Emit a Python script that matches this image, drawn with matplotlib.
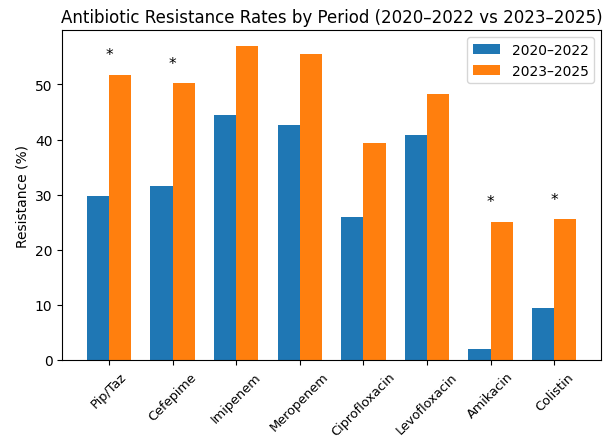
import numpy as np
import matplotlib
matplotlib.use("Agg")
import matplotlib.pyplot as plt

# antibiotics and resistance rates (%)
drugs = ["Pip/Taz", "Cefepime", "Imipenem", "Meropenem",
         "Ciprofloxacin", "Levofloxacin", "Amikacin", "Colistin"]
period1 = [29.8, 31.5, 44.4, 42.7, 25.9, 40.8, 2.0, 9.4]
period2 = [51.8, 50.2, 57.0, 55.6, 39.3, 48.3, 25.1, 25.6]
significant = [True, True, False, False, False, False, True, True]

barWidth = 0.35
x = np.arange(len(drugs))

fig, ax = plt.subplots(figsize=(6.04, 4.39), dpi=100)
ax.bar(x - barWidth / 2, period1, width=barWidth, label="2020–2022")
ax.bar(x + barWidth / 2, period2, width=barWidth, label="2023–2025")

# mark significant changes
for i, sig in enumerate(significant):
    if sig:
        top = max(period1[i], period2[i])
        ax.text(x[i], top + 2.2, "*", ha="center", va="bottom", fontsize=11)

ax.set_xticks(x)
ax.set_xticklabels(drugs, rotation=45, fontsize=9.3)
ax.set_ylabel("Resistance (%)")
ax.set_title("Antibiotic Resistance Rates by Period (2020–2022 vs 2023–2025)")
ax.legend()

fig.subplots_adjust(left=0.103, right=0.995, top=0.929, bottom=0.178)
fig.savefig("out.png")
